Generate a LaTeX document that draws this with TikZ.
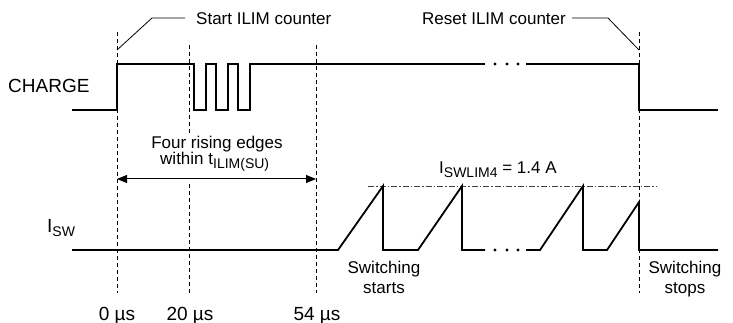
\documentclass[tikz,border=0pt]{standalone}
\usepackage{fontspec}
\setmainfont{Liberation Sans}
\usetikzlibrary{arrows.meta}
\begin{document}
\begin{tikzpicture}[x=1pt,y=-1pt,
  sig/.style={line width=1.8pt,line join=miter},
  guide/.style={line width=0.8pt,dash pattern=on 4pt off 3pt},
  leader/.style={line width=0.8pt},
  limit/.style={line width=0.8pt,black!75,dash pattern=on 6pt off 2pt on 1.5pt off 2pt},
  txt/.style={inner sep=0pt,font=\fontsize{17}{20}\selectfont},
  big/.style={inner sep=0pt,font=\fontsize{19}{22}\selectfont},
  dot/.style={circle,fill=black,inner sep=0pt,minimum size=3.2pt}]
\useasboundingbox (0,0) rectangle (733,323);
\newcommand{\subtxt}[1]{\raisebox{-0.22em}{\fontsize{14}{16}\selectfont #1}}
% guide lines
\coordinate (g0t) at (117,32);  \coordinate (g0b) at (117,293);
\coordinate (g20t) at (189,45); \coordinate (g20m) at (189,133);
\coordinate (g20n) at (189,184); \coordinate (g20b) at (189,293);
\coordinate (g54t) at (316,45); \coordinate (g54b) at (316,293);
\coordinate (gRt) at (639,32);  \coordinate (gRb) at (639,293);
\draw[guide] (g0t) -- (g0b);
\draw[guide] (g20t) -- (g20m);
\draw[guide] (g20n) -- (g20b);
\draw[guide] (g54t) -- (g54b);
\draw[guide] (gRt) -- (gRb);
% labels
\node[big,anchor=base west] (charge) at (8,93) {CHARGE};
\node[big,anchor=base west] (isw) at (47,232) {I\subtxt{SW}};
\node[big,anchor=base] (t0) at (117,320) {0 µs};
\node[big,anchor=base] (t20) at (190,320) {20 µs};
\node[big,anchor=base] (t54) at (317,320) {54 µs};
\node[txt,anchor=base west] (start) at (196,25) {Start ILIM counter};
\node[txt,anchor=base west] (reset) at (422,25) {Reset ILIM counter};
\node[txt,anchor=base] (four) at (217,149) {Four rising edges};
\node[txt,anchor=base west] (within) at (160,165) {within t\subtxt{ILIM(SU)}};
\node[txt,anchor=base west] (ilim) at (439,174) {I\subtxt{SWLIM4} = 1.4 A};
\node[txt,anchor=base] (sw1) at (384,273) {Switching};
\node[txt,anchor=base] (sw1b) at (384,293) {starts};
\node[txt,anchor=base] (sw2) at (685,273) {Switching};
\node[txt,anchor=base] (sw2b) at (685,293) {stops};
% leaders
\coordinate (ls0) at (117,50); \coordinate (ls1) at (152,18); \coordinate (ls2) at (185,18);
\draw[leader] (ls0) -- (ls1) -- (ls2);
\coordinate (lr0) at (572,18); \coordinate (lr1) at (608,18); \coordinate (lr2) at (639,50);
\draw[leader] (lr0) -- (lr1) -- (lr2);
% interval arrow
\coordinate (a0) at (117,179); \coordinate (a1) at (316,179);
\draw[line width=1pt,{Triangle[length=10pt,width=8pt]}-{Triangle[length=10pt,width=8pt]}] (a0) -- (a1);
% current limit
\coordinate (l0) at (368,186); \coordinate (l1) at (657,186);
\draw[limit] (l0) -- (l1);
% CHARGE waveform
\draw[sig] (72,110) -- (117,110) -- (117,64) -- (194,64) -- (194,110) -- (206,110) -- (206,64)
  -- (216,64) -- (216,110) -- (228,110) -- (228,64) -- (238,64) -- (238,110) -- (250,110)
  -- (250,64) -- (485,64);
\node[dot] (cd1) at (495,64) {};
\node[dot] (cd2) at (507,64) {};
\node[dot] (cd3) at (518,64) {};
\draw[sig] (526,64) -- (639,64) -- (639,110) -- (718,110);
% ISW waveform
\draw[sig] (72,250) -- (338,250) -- (383,186) -- (383,250) -- (418,250) -- (462,186)
  -- (462,250) -- (485,250);
\node[dot] (id1) at (495,250) {};
\node[dot] (id2) at (507,250) {};
\node[dot] (id3) at (518,250) {};
\draw[sig] (526,250) -- (540,250) -- (583,186) -- (583,250) -- (607,250) -- (639,202)
  -- (639,250) -- (718,250);
\end{tikzpicture}
\end{document}
